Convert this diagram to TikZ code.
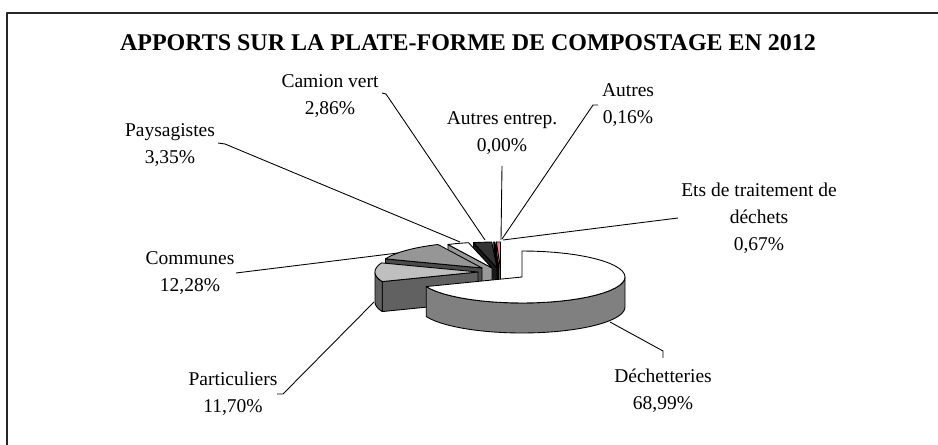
\documentclass[tikz,border=0pt]{standalone}
\usepackage{fontspec}
\setmainfont{Liberation Serif}
\usetikzlibrary{positioning}

% pie geometry (pixels)
\def\rx{103}
\def\ry{26}
\def\dep{30}
\newcommand{\ptop}[5]{\filldraw[fill=#5] (#1,#2) -- plot[domain=#3:#4,samples=40] ({#1+\rx*sin(\x)},{#2-\ry*cos(\x)}) -- cycle;}
\newcommand{\pside}[5]{\filldraw[fill=#5] plot[domain=#3:#4,samples=40] ({#1+\rx*sin(\x)},{#2-\ry*cos(\x)}) -- plot[domain=#4:#3,samples=40] ({#1+\rx*sin(\x)},{#2+\dep-\ry*cos(\x)}) -- cycle;}
\newcommand{\pface}[4]{\filldraw[fill=#4] (#1,#2) -- ({#1+\rx*sin(#3)},{#2-\ry*cos(#3)}) -- ++(0,\dep) -- ({#1},{#2+\dep}) -- cycle;}

\begin{document}
\begin{tikzpicture}[x=0.5128pt,y=-0.5128pt,line join=round,
	lbl/.style={align=center,inner sep=0pt,font=\fontsize{10}{13.8}\selectfont},
	leader/.style={line width=0.45pt}]
	\useasboundingbox (0,0) rectangle (938,445);
	\fill[white] (0,0) rectangle (938,445);
	\draw[line width=1.1pt,black!85] (7,460)--(7,13)--(950,13);

	\node (title) at (468,43) {\fontsize{12.3}{15}\selectfont\bfseries APPORTS SUR LA PLATE-FORME DE COMPOSTAGE EN 2012};

	% slices, back to front
	\begin{scope}[line width=0.45pt]
	\pface{500.5}{268}{357.7}{red!45}
	\ptop{500.5}{268}{357.7}{360}{red!50}
	\pface{499}{268}{357.1}{black}
	\ptop{499}{268}{357.1}{357.7}{black}
	\pface{497}{268}{346.8}{black!90}
	\ptop{497}{268}{346.8}{357.1}{black!80}
	\pface{492}{268}{334.7}{black!40}
	\ptop{492}{268}{334.7}{346.8}{white}
	\pface{482}{268}{290.5}{black!70}
	\ptop{482}{268}{290.5}{334.7}{black!41}
	\pface{478}{272}{248.4}{black!62}
	\pside{478}{272}{248.4}{270}{black!62}
	\ptop{478}{272}{248.4}{290.5}{black!25}
	\pside{522}{277}{90}{248.4}{black!50}
	\ptop{522}{277}{0}{248.4}{white}
	\end{scope}

	% labels
	\node[lbl] (camion) at (330,96) {Camion vert\\2,86\%};
	\node[lbl] (paysag) at (170,145) {Paysagistes\\3,35\%};
	\node[lbl] (entrep) at (502,133.5) {Autres entrep.\\0,00\%};
	\node[lbl] (autres) at (628,105.5) {Autres\\0,16\%};
	\node[lbl] (ets) at (759,218) {Ets de traitement de\\d\'echets\\0,67\%};
	\node[lbl] (commun) at (190,273) {Communes\\12,28\%};
	\node[lbl] (partic) at (233,394) {Particuliers\\11,70\%};
	\node[lbl] (dechet) at (663,390.5) {D\'echetteries\\68,99\%};

	% leader ends
	\coordinate (camion-a) at (382,93);
	\coordinate (camion-b) at (485,240);
	\coordinate (paysag-a) at (218,143);
	\coordinate (paysag-b) at (460,242);
	\coordinate (entrep-a) at (502,166);
	\coordinate (entrep-b) at (501,240);
	\coordinate (autres-a) at (598,105);
	\coordinate (autres-b) at (502,239);
	\coordinate (ets-a) at (678,218);
	\coordinate (ets-b) at (503,240);
	\coordinate (commun-a) at (236,273);
	\coordinate (commun-b) at (398,253);
	\coordinate (partic-a) at (277,394);
	\coordinate (partic-b) at (374,302);
	\coordinate (dechet-a) at (663,358);
	\coordinate (dechet-b) at (610,322);

	\draw[leader] (camion-a) -- ++(4,1) -- (camion-b);
	\draw[leader] (paysag-a) -- ++(7,1) -- (paysag-b);
	\draw[leader] (entrep-a) -- (entrep-b);
	\draw[leader] (autres-a) -- ++(-5,0) -- (autres-b);
	\draw[leader] (ets-a) -- (ets-b);
	\draw[leader] (commun-a) -- (commun-b);
	\draw[leader] (partic-a) -- ++(6,0) -- (partic-b);
	\draw[leader] (dechet-a) -- ++(0,-7) -- (dechet-b);
\end{tikzpicture}
\end{document}
